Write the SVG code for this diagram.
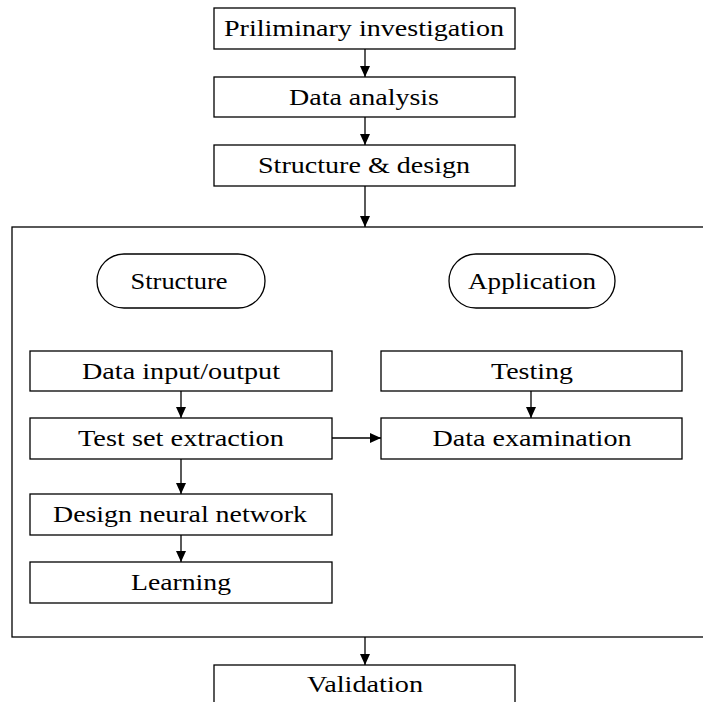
<svg xmlns="http://www.w3.org/2000/svg" width="703" height="702" viewBox="0 0 703 702">
<style>
.box{fill:#fff;stroke:#000;stroke-width:1.3}
.frame{fill:none;stroke:#000;stroke-width:1.3}
text{font-family:'Liberation Serif','Times New Roman',Times,serif;font-size:23.5px;fill:#000;text-anchor:middle}
.c{fill:none;stroke:#000;stroke-width:1.3}
</style>
<defs>
<marker id="ah" viewBox="0 0 11 10" refX="11" refY="5" markerWidth="11" markerHeight="10" markerUnits="userSpaceOnUse" orient="auto">
<path d="M0,0 L11,5 L0,10 z" fill="#000"/>
</marker>
</defs>
<rect width="703" height="702" fill="#fff"/>
<g id="frame"><rect class="frame" x="12" y="227" width="720" height="410"/></g>
<g id="n1"><rect class="box" x="214" y="8" width="301" height="41"/><text x="364" y="36" textLength="280" lengthAdjust="spacingAndGlyphs">Priliminary investigation</text></g>
<g id="n2"><rect class="box" x="214" y="77" width="301" height="40"/><text x="364" y="105" textLength="150" lengthAdjust="spacingAndGlyphs">Data analysis</text></g>
<g id="n3"><rect class="box" x="214" y="145" width="301" height="41"/><text x="364" y="173" textLength="212" lengthAdjust="spacingAndGlyphs">Structure &amp; design</text></g>
<g id="o1"><rect class="box" x="97" y="254" width="168" height="54" rx="27" ry="27"/><text x="179" y="289" textLength="97" lengthAdjust="spacingAndGlyphs">Structure</text></g>
<g id="o2"><rect class="box" x="449" y="254" width="166" height="54" rx="27" ry="27"/><text x="532" y="289" textLength="128" lengthAdjust="spacingAndGlyphs">Application</text></g>
<g id="n4"><rect class="box" x="30" y="351" width="302" height="40"/><text x="181" y="379" textLength="198" lengthAdjust="spacingAndGlyphs">Data input/output</text></g>
<g id="n5"><rect class="box" x="30" y="418" width="302" height="41"/><text x="181" y="446" textLength="206" lengthAdjust="spacingAndGlyphs">Test set extraction</text></g>
<g id="n6"><rect class="box" x="30" y="494" width="302" height="41"/><text x="180" y="522" textLength="254" lengthAdjust="spacingAndGlyphs">Design neural network</text></g>
<g id="n7"><rect class="box" x="30" y="562" width="302" height="41"/><text x="181" y="590" textLength="100" lengthAdjust="spacingAndGlyphs">Learning</text></g>
<g id="n8"><rect class="box" x="381" y="351" width="301" height="40"/><text x="532" y="379" textLength="82" lengthAdjust="spacingAndGlyphs">Testing</text></g>
<g id="n9"><rect class="box" x="381" y="418" width="301" height="41"/><text x="532" y="446" textLength="199" lengthAdjust="spacingAndGlyphs">Data examination</text></g>
<g id="n10"><rect class="box" x="214" y="665" width="301" height="41"/><text x="365" y="692" textLength="116" lengthAdjust="spacingAndGlyphs">Validation</text></g>
<g id="connectors">
<line class="c" x1="365" y1="49" x2="365" y2="77" marker-end="url(#ah)"/>
<line class="c" x1="365" y1="117" x2="365" y2="145" marker-end="url(#ah)"/>
<line class="c" x1="365" y1="186" x2="365" y2="227" marker-end="url(#ah)"/>
<line class="c" x1="181" y1="391" x2="181" y2="418" marker-end="url(#ah)"/>
<line class="c" x1="181" y1="459" x2="181" y2="494" marker-end="url(#ah)"/>
<line class="c" x1="181" y1="535" x2="181" y2="562" marker-end="url(#ah)"/>
<line class="c" x1="531" y1="391" x2="531" y2="418" marker-end="url(#ah)"/>
<line class="c" x1="332" y1="438" x2="381" y2="438" marker-end="url(#ah)"/>
<line class="c" x1="365" y1="637" x2="365" y2="665" marker-end="url(#ah)"/>
</g>
</svg>
